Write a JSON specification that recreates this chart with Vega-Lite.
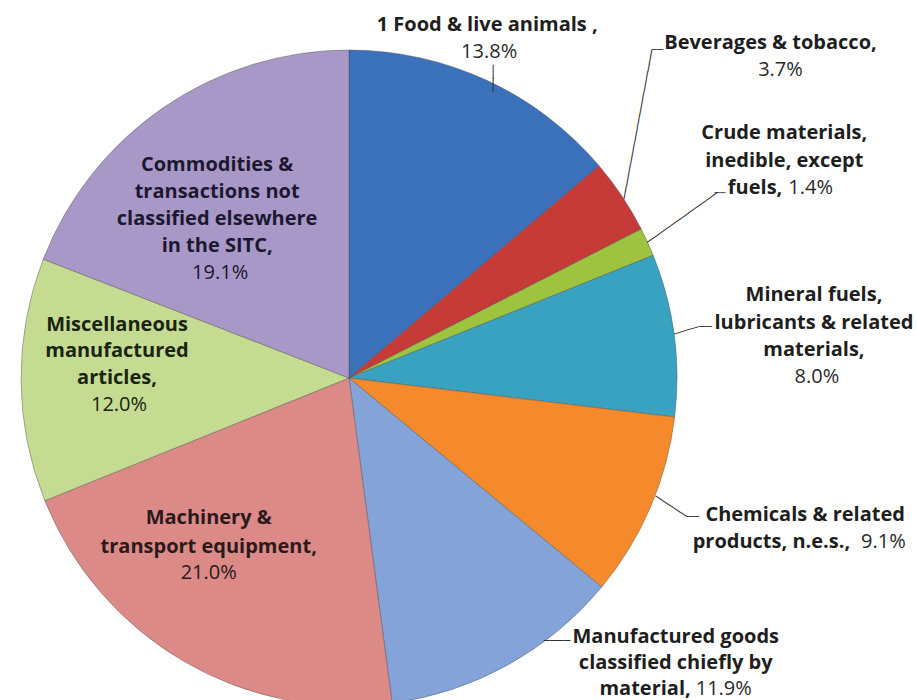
{
  "$schema": "https://vega.github.io/schema/vega-lite/v6.json",
  "width": 698,
  "height": 700,
  "autosize": "none",
  "padding": {"left": 0, "top": 28, "right": 218, "bottom": 0},
  "background": "white",
  "config": {"view": {"stroke": null}, "text": {"font": "Open Sans", "fontSize": 20, "baseline": "middle"}},
  "data": {
    "values": [
      {"rank": 1, "category": "1 Food & live animals", "share": 0.138, "head": ["1 Food  & live animals  ,"], "tail": null},
      {"rank": 2, "category": "Beverages & tobacco", "share": 0.037, "head": ["Beverages & tobacco,"], "tail": null},
      {"rank": 3, "category": "Crude materials, inedible, except fuels", "share": 0.014, "head": ["Crude materials,", "inedible, except"], "tail": "fuels,"},
      {"rank": 4, "category": "Mineral fuels, lubricants & related materials", "share": 0.080, "head": ["Mineral fuels,", "lubricants & related", "materials,"], "tail": null},
      {"rank": 5, "category": "Chemicals & related products, n.e.s.", "share": 0.091, "head": ["Chemicals & related"], "tail": "products, n.e.s.,"},
      {"rank": 6, "category": "Manufactured goods classified chiefly by material", "share": 0.119, "head": ["Manufactured goods", "classified chiefly by"], "tail": "material,"},
      {"rank": 7, "category": "Machinery & transport equipment", "share": 0.210, "head": ["Machinery &", "transport equipment,"], "tail": null},
      {"rank": 8, "category": "Miscellaneous manufactured articles", "share": 0.120, "head": ["Miscellaneous", "manufactured", "articles,"], "tail": null},
      {"rank": 9, "category": "Commodities & transactions not classified elsewhere in the SITC", "share": 0.191, "head": ["Commodities &", "transactions not", "classified elsewhere", "in the SITC,"], "tail": null}
    ]
  },
  "encoding": {
    "theta": {"field": "share", "type": "quantitative", "stack": true},
    "order": {"field": "rank", "type": "quantitative"},
    "detail": {"field": "category", "type": "nominal"}
  },
  "layer": [
    {
      "mark": {"type": "arc", "radius": 328, "stroke": "#4a4a4a", "strokeWidth": 0.7, "strokeOpacity": 0.6},
      "encoding": {
        "color": {
          "field": "category", "type": "nominal", "legend": null,
          "scale": {
            "domain": ["1 Food & live animals", "Beverages & tobacco", "Crude materials, inedible, except fuels", "Mineral fuels, lubricants & related materials", "Chemicals & related products, n.e.s.", "Manufactured goods classified chiefly by material", "Machinery & transport equipment", "Miscellaneous manufactured articles", "Commodities & transactions not classified elsewhere in the SITC"],
            "range": ["#3B70BA", "#C63B38", "#9DC33F", "#38A2C0", "#F58A2C", "#84A3D8", "#DB8A88", "#C5DB92", "#A898C8"]
          }
        }
      }
    },

    {"mark": {"type": "text", "radius": 336.4, "dx": 2.7, "dy": -1.2, "font": "DejaVu Sans", "fontSize": 12, "lineHeight": 13.9, "align": "center", "color": "#2b2b2b"},
     "encoding": {"text": {"condition": {"test": "datum.rank == 1", "value": ["│", "│"]}, "value": ""}}},
    {"mark": {"type": "text", "radius": 381, "angle": -79.4, "dx": 36.4, "dy": -35.4, "font": "DejaVu Sans", "fontSize": 12, "align": "center", "color": "#2b2b2b"},
     "encoding": {"text": {"condition": {"test": "datum.rank == 2", "value": "─────────────────────"}, "value": ""}}},
    {"mark": {"type": "text", "radius": 381, "dx": -8.6, "dy": -116.8, "font": "DejaVu Sans", "fontSize": 9.5, "align": "center", "color": "#2b2b2b"},
     "encoding": {"text": {"condition": {"test": "datum.rank == 2", "value": "──"}, "value": ""}}},
    {"mark": {"type": "text", "radius": 370, "angle": -35.4, "dx": 1.6, "dy": -7.7, "font": "DejaVu Sans", "fontSize": 12, "align": "center", "color": "#2b2b2b"},
     "encoding": {"text": {"condition": {"test": "datum.rank == 3", "value": "────────────"}, "value": ""}}},
    {"mark": {"type": "text", "radius": 370, "dx": 34.3, "dy": -31.7, "font": "DejaVu Sans", "fontSize": 9, "align": "center", "color": "#2b2b2b"},
     "encoding": {"text": {"condition": {"test": "datum.rank == 3", "value": "──"}, "value": ""}}},
    {"mark": {"type": "text", "radius": 341.3, "angle": -17.1, "dx": 0.3, "dy": -2.1, "font": "DejaVu Sans", "fontSize": 11, "align": "center", "color": "#2b2b2b"},
     "encoding": {"text": {"condition": {"test": "datum.rank == 4", "value": "────"}, "value": ""}}},
    {"mark": {"type": "text", "radius": 341.3, "dx": 18.7, "dy": -6.1, "font": "DejaVu Sans", "fontSize": 10, "align": "center", "color": "#2b2b2b"},
     "encoding": {"text": {"condition": {"test": "datum.rank == 4", "value": "──"}, "value": ""}}},
    {"mark": {"type": "text", "radius": 346.6, "angle": 33.3, "dx": -1.5, "dy": -8.7, "font": "DejaVu Sans", "fontSize": 12.5, "align": "center", "color": "#2b2b2b"},
     "encoding": {"text": {"condition": {"test": "datum.rank == 5", "value": "─────"}, "value": ""}}},
    {"mark": {"type": "text", "radius": 346.6, "dx": 25.5, "dy": 2.4, "font": "DejaVu Sans", "fontSize": 10, "align": "center", "color": "#2b2b2b"},
     "encoding": {"text": {"condition": {"test": "datum.rank == 5", "value": "──"}, "value": ""}}},
    {"mark": {"type": "text", "radius": 330.9, "dx": 47.7, "dy": -26.5, "font": "DejaVu Sans", "fontSize": 11, "align": "center", "color": "#2b2b2b"},
     "encoding": {"text": {"condition": {"test": "datum.rank == 6", "value": "────"}, "value": ""}}},

    {"mark": {"type": "text", "radius": 367, "dx": -16, "dy": -20, "fontWeight": "bold", "lineHeight": 27, "align": "center", "color": "#1e1e1e"},
     "encoding": {"text": {"condition": {"test": "datum.rank == 1", "field": "head", "type": "nominal"}, "value": ""}}},
    {"mark": {"type": "text", "radius": 367, "dx": -14, "dy": 7, "align": "center", "color": "#2a2a2a"},
     "encoding": {"text": {"condition": {"test": "datum.rank == 1", "field": "share", "type": "quantitative", "format": ".1%"}, "value": ""}}},

    {"mark": {"type": "text", "radius": 522, "dx": -13, "dy": -46, "fontWeight": "bold", "lineHeight": 27, "align": "center", "color": "#1e1e1e"},
     "encoding": {"text": {"condition": {"test": "datum.rank == 2", "field": "head", "type": "nominal"}, "value": ""}}},
    {"mark": {"type": "text", "radius": 522, "dx": -3, "dy": -19, "align": "center", "color": "#2a2a2a"},
     "encoding": {"text": {"condition": {"test": "datum.rank == 2", "field": "share", "type": "quantitative", "format": ".1%"}, "value": ""}}},

    {"mark": {"type": "text", "radius": 486, "dx": -7, "dy": -43.6, "fontWeight": "bold", "lineHeight": 28, "align": "center", "color": "#1e1e1e"},
     "encoding": {"text": {"condition": {"test": "datum.rank == 3", "field": "head", "type": "nominal"}, "value": ""}}},
    {"mark": {"type": "text", "radius": 486, "dx": -9, "dy": 11, "fontWeight": "bold", "align": "right", "color": "#1e1e1e"},
     "encoding": {"text": {"condition": {"test": "datum.rank == 3", "field": "tail", "type": "nominal"}, "value": ""}}},
    {"mark": {"type": "text", "radius": 486, "dx": -3, "dy": 11, "align": "left", "color": "#2a2a2a"},
     "encoding": {"text": {"condition": {"test": "datum.rank == 3", "field": "share", "type": "quantitative", "format": ".1%"}, "value": ""}}},

    {"mark": {"type": "text", "radius": 467, "dx": 2, "dy": -21.5, "fontWeight": "bold", "lineHeight": 27.5, "align": "center", "color": "#1e1e1e"},
     "encoding": {"text": {"condition": {"test": "datum.rank == 4", "field": "head", "type": "nominal"}, "value": ""}}},
    {"mark": {"type": "text", "radius": 467, "dx": 5, "dy": 60.5, "align": "center", "color": "#2a2a2a"},
     "encoding": {"text": {"condition": {"test": "datum.rank == 4", "field": "share", "type": "quantitative", "format": ".1%"}, "value": ""}}},

    {"mark": {"type": "text", "radius": 480, "dx": 15, "dy": -52, "fontWeight": "bold", "align": "center", "color": "#1e1e1e"},
     "encoding": {"text": {"condition": {"test": "datum.rank == 5", "field": "head", "type": "nominal"}, "value": ""}}},
    {"mark": {"type": "text", "radius": 480, "dx": 60, "dy": -25, "fontWeight": "bold", "align": "right", "color": "#1e1e1e"},
     "encoding": {"text": {"condition": {"test": "datum.rank == 5", "field": "tail", "type": "nominal"}, "value": ""}}},
    {"mark": {"type": "text", "radius": 480, "dx": 71, "dy": -25, "align": "left", "color": "#2a2a2a"},
     "encoding": {"text": {"condition": {"test": "datum.rank == 5", "field": "share", "type": "quantitative", "format": ".1%"}, "value": ""}}},

    {"mark": {"type": "text", "radius": 437, "dx": 115, "dy": -123.3, "fontWeight": "bold", "lineHeight": 26.5, "align": "center", "color": "#1e1e1e"},
     "encoding": {"text": {"condition": {"test": "datum.rank == 6", "field": "head", "type": "nominal"}, "value": ""}}},
    {"mark": {"type": "text", "radius": 437, "dx": 130, "dy": -71, "fontWeight": "bold", "align": "right", "color": "#1e1e1e"},
     "encoding": {"text": {"condition": {"test": "datum.rank == 6", "field": "tail", "type": "nominal"}, "value": ""}}},
    {"mark": {"type": "text", "radius": 437, "dx": 135, "dy": -71, "align": "left", "color": "#2a2a2a"},
     "encoding": {"text": {"condition": {"test": "datum.rank == 6", "field": "share", "type": "quantitative", "format": ".1%"}, "value": ""}}},

    {"mark": {"type": "text", "radius": 219, "dx": -30, "dy": -49.2, "fontWeight": "bold", "lineHeight": 29, "align": "center", "color": "#2a1a1a"},
     "encoding": {"text": {"condition": {"test": "datum.rank == 7", "field": "head", "type": "nominal"}, "value": ""}}},
    {"mark": {"type": "text", "radius": 219, "dx": -30, "dy": 5.8, "align": "center", "color": "#2a1a1a"},
     "encoding": {"text": {"condition": {"test": "datum.rank == 7", "field": "share", "type": "quantitative", "format": ".1%"}, "value": ""}}},

    {"mark": {"type": "text", "radius": 232, "dx": 0, "dy": -54.5, "fontWeight": "bold", "lineHeight": 26.5, "align": "center", "color": "#1a2410"},
     "encoding": {"text": {"condition": {"test": "datum.rank == 8", "field": "head", "type": "nominal"}, "value": ""}}},
    {"mark": {"type": "text", "radius": 232, "dx": 2, "dy": 25.5, "align": "center", "color": "#1a2410"},
     "encoding": {"text": {"condition": {"test": "datum.rank == 8", "field": "share", "type": "quantitative", "format": ".1%"}, "value": ""}}},

    {"mark": {"type": "text", "radius": 207, "dx": -15, "dy": -42.2, "fontWeight": "bold", "lineHeight": 27, "align": "center", "color": "#1c1830"},
     "encoding": {"text": {"condition": {"test": "datum.rank == 9", "field": "head", "type": "nominal"}, "value": ""}}},
    {"mark": {"type": "text", "radius": 207, "dx": -12, "dy": 65.8, "align": "center", "color": "#1c1830"},
     "encoding": {"text": {"condition": {"test": "datum.rank == 9", "field": "share", "type": "quantitative", "format": ".1%"}, "value": ""}}}
  ]
}
